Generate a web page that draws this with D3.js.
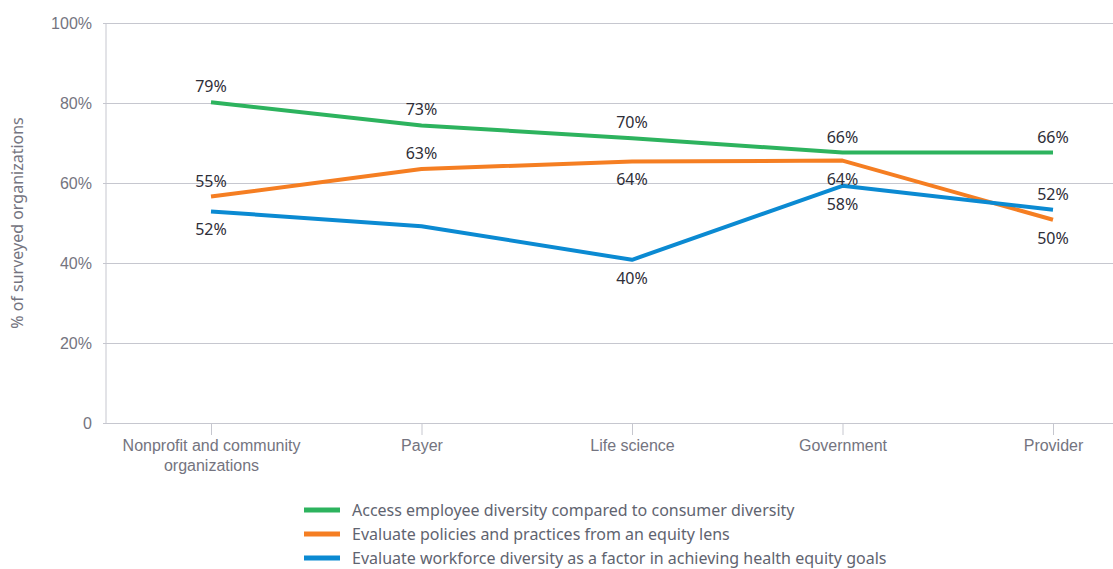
<!DOCTYPE html>
<html>
<head>
<meta charset="utf-8">
<script src="https://cdn.jsdelivr.net/npm/d3@7"></script>
<style>
  body { margin: 0; background: #fff; }
  svg { font-family: "Noto Sans", sans-serif; }
</style>
</head>
<body>
<div id="container"></div>
<script>
/* CONSTANTS AND GLOBALS */
const width = 1113;
const height = 569;

/* DATA */
const categories = ["Nonprofit and community organizations", "Payer", "Life science", "Government", "Provider"];
const seriesNames = [
  "Access employee diversity compared to consumer diversity",
  "Evaluate policies and practices from an equity lens",
  "Evaluate workforce diversity as a factor in achieving health equity goals"
];
const accessValues = [80.2, 74.4, 71.2, 67.6, 67.6];
const policyValues = [56.6, 63.5, 65.4, 65.6, 50.8];
const workforceValues = [52.9, 49.2, 40.8, 59.3, 53.3];
const accessLabels = ["79%", "73%", "70%", "66%", "66%"];
const policyLabels = ["55%", "63%", "64%", "64%", "50%"];
const workforceLabels = ["52%", null, "40%", "58%", "52%"];
// where the value label sits: above or below the point
const accessPlace = ["above", "above", "above", "above", "above"];
const policyPlace = ["above", "above", "below", "below", "below"];
const workforcePlace = ["below", "below", "below", "below", "above"];
const yTicks = [0, 20, 40, 60, 80, 100];
const colors = ["#2db35e", "#f57e22", "#0b8ad2"];

const series = [
  { name: seriesNames[0], values: accessValues, labels: accessLabels, place: accessPlace, color: colors[0] },
  { name: seriesNames[1], values: policyValues, labels: policyLabels, place: policyPlace, color: colors[1] },
  { name: seriesNames[2], values: workforceValues, labels: workforceLabels, place: workforcePlace, color: colors[2] }
];

const margin = { left: 106, top: 23, right: 0, bottom: 146 };
const fontSize = "16px";

const svg = d3.select("#container")
  .append("svg")
  .attr("width", width)
  .attr("height", height);

/* SCALES */
const xScale = d3.scalePoint()
  .domain(categories)
  .range([211, 1053]);

const yScale = d3.scaleLinear()
  .domain([0, 100])
  .range([height - margin.bottom, margin.top]);

// gridlines + y labels
const yAxis = svg.append("g")
  .attr("transform", `translate(${margin.left},0)`)
  .call(d3.axisLeft(yScale)
    .tickValues(yTicks)
    .tickSize(-(width - margin.left))
    .tickPadding(14)
    .tickFormat(d => d === 0 ? "0" : d + "%"));
yAxis.select(".domain").remove();
yAxis.selectAll(".tick line")
  .attr("x1", -3)
  .attr("stroke", "#c6c7cf");
yAxis.selectAll(".tick text")
  .attr("fill", "#747480")
  .style("font-size", fontSize);

// vertical axis line
svg.append("line")
  .attr("x1", margin.left).attr("x2", margin.left)
  .attr("y1", yScale(100)).attr("y2", yScale(0))
  .attr("stroke", "#c6c7cf");

// x axis
const xAxis = svg.append("g")
  .attr("transform", `translate(0,${yScale(0)})`)
  .call(d3.axisBottom(xScale).tickSize(12).tickPadding(5));
xAxis.select(".domain").remove();
xAxis.selectAll(".tick line").attr("stroke", "#c6c7cf");
xAxis.selectAll(".tick text")
  .attr("fill", "#747480")
  .style("font-size", fontSize)
  .text(null)
  .each(function (d) {
    const t = d3.select(this);
    const parts = d === categories[0] ? ["Nonprofit and community", "organizations"] : [d];
    parts.forEach((p, i) => {
      t.append("tspan").attr("x", 0).attr("dy", i === 0 ? "0.71em" : "1.2em").text(p);
    });
  });

// y title
svg.append("text")
  .attr("transform", `translate(23,${(yScale(0) + yScale(100)) / 2}) rotate(-90)`)
  .attr("text-anchor", "middle")
  .attr("fill", "#747480")
  .style("font-size", fontSize)
  .text("% of surveyed organizations");

/* LINES */
const line = d3.line()
  .x((d, i) => xScale(categories[i]))
  .y(d => yScale(d));

svg.selectAll("path.series")
  .data(series)
  .join("path")
  .attr("class", "series")
  .attr("d", d => line(d.values))
  .attr("fill", "none")
  .attr("stroke", d => d.color)
  .attr("stroke-width", 4)
  .attr("stroke-linejoin", "round");

// value labels
series.forEach(s => {
  svg.append("g")
    .selectAll("text")
    .data(s.values.map((v, i) => ({ v, i, label: s.labels[i], place: s.place[i] })).filter(d => d.label))
    .join("text")
    .attr("x", d => xScale(categories[d.i]))
    .attr("y", d => yScale(d.v) + (d.place === "above" ? -10 : 24))
    .attr("text-anchor", "middle")
    .attr("fill", "#2e2e38")
    .style("font-size", fontSize)
    .text(d => d.label);
});

/* LEGEND */
const legend = svg.append("g").attr("transform", "translate(304,510)");
const items = legend.selectAll("g")
  .data(series)
  .join("g")
  .attr("transform", (d, i) => `translate(0,${i * 24})`);
items.append("rect")
  .attr("x", 0).attr("y", -2.5)
  .attr("width", 36).attr("height", 5)
  .attr("fill", d => d.color);
items.append("text")
  .attr("x", 48).attr("y", 0)
  .attr("dy", "0.35em")
  .attr("fill", "#5f6470")
  .style("font-size", fontSize)
  .text(d => d.name);
</script>
</body>
</html>
